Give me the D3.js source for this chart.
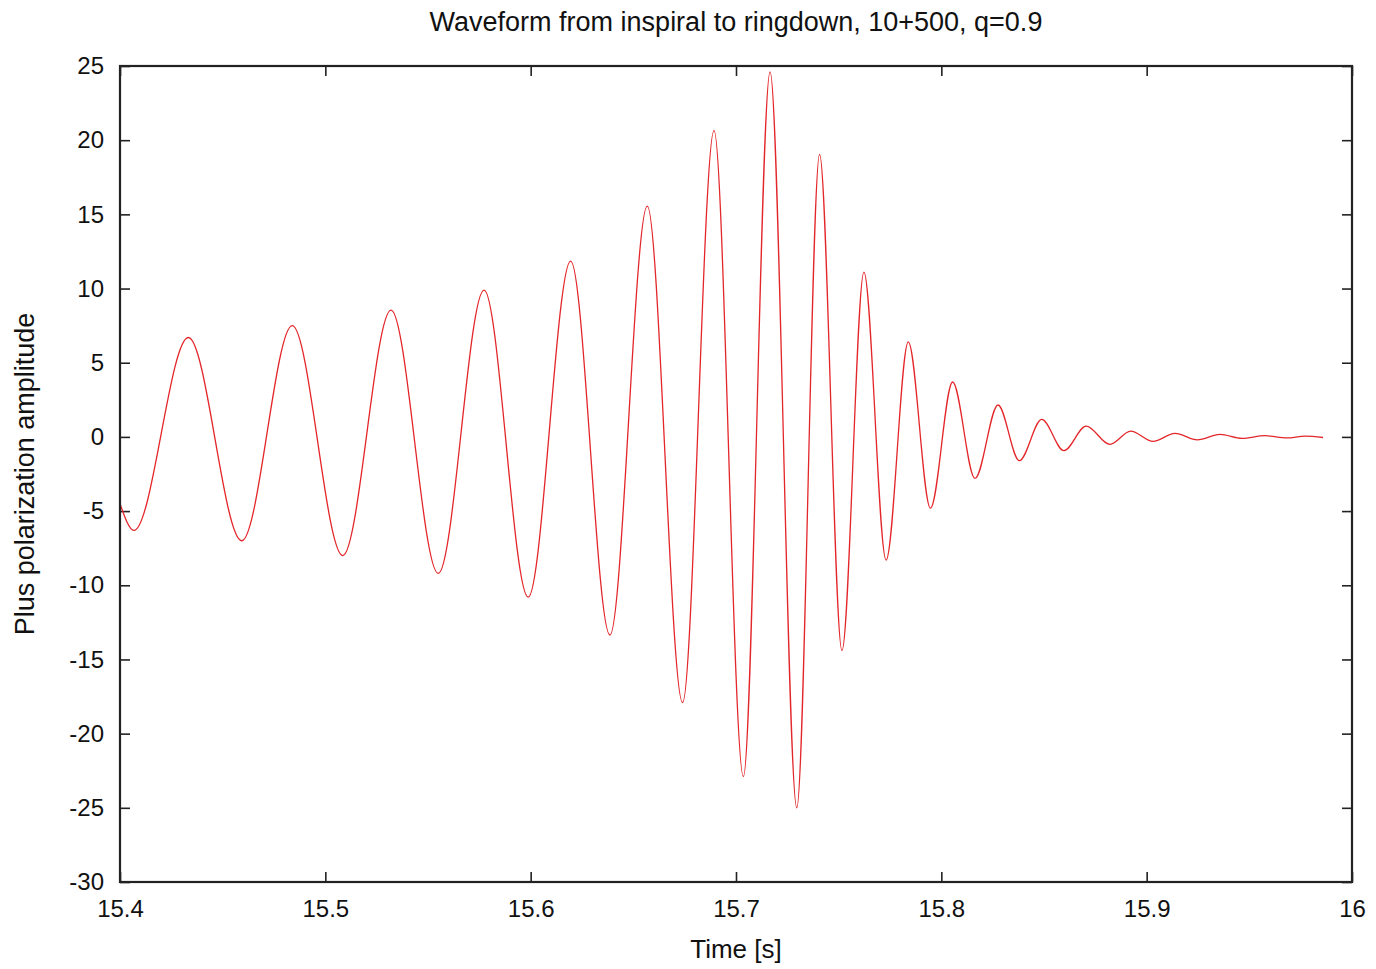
<!DOCTYPE html>
<html>
<head>
<meta charset="utf-8">
<script src="https://cdn.jsdelivr.net/npm/d3@7"></script>
<style>
  html, body { margin: 0; padding: 0; background: #fff; }
  svg { display: block; }
  text { font-family: "Liberation Sans", Arial, Helvetica, sans-serif; fill: #111; }
</style>
</head>
<body>
<svg id="chart" width="1376" height="969"></svg>
<script>
// ---- data (start, successive extrema, end) ----
const times = [
  15.4000, 15.4068, 15.4333, 15.4593, 15.4839, 15.5085, 15.5320, 15.5550,
  15.5773, 15.5988, 15.6195, 15.6386, 15.6568, 15.6740, 15.6893, 15.7036,
  15.7166, 15.7296, 15.7407, 15.7516, 15.7623, 15.7731, 15.7839, 15.7947,
  15.8055, 15.8164, 15.8276, 15.8380, 15.8489, 15.8597, 15.8705, 15.8821,
  15.8922, 15.9031, 15.9138, 15.9247, 15.9357, 15.9464, 15.9576, 15.9683,
  15.9771, 15.9859
];
const amplitudes = [
  -4.5, -6.3, 6.7, -7.0, 7.5, -8.0, 8.55, -9.2,
  9.9, -10.8, 11.85, -13.35, 15.55, -17.9, 20.65, -22.9,
  24.6, -25.0, 19.05, -14.4, 11.1, -8.3, 6.4, -4.8,
  3.7, -2.8, 2.15, -1.6, 1.18, -0.93, 0.73, -0.5,
  0.39, -0.3, 0.24, -0.2, 0.17, -0.1, 0.08, -0.07,
  0.05, -0.04
];
const xTickValues = [15.4, 15.5, 15.6, 15.7, 15.8, 15.9, 16.0];
const xTickLabels = ["15.4", "15.5", "15.6", "15.7", "15.8", "15.9", "16"];
const yTickValues = [-30, -25, -20, -15, -10, -5, 0, 5, 10, 15, 20, 25];
const yTickLabels = ["-30", "-25", "-20", "-15", "-10", "-5", "0", "5", "10", "15", "20", "25"];
const titleText = "Waveform from inspiral to ringdown, 10+500, q=0.9";
const xLabelText = "Time [s]";
const yLabelText = "Plus polarization amplitude";

// ---- layout ----
const L = 120, R = 1352, T = 66, B = 882;
const svg = d3.select("#chart");

const x = d3.scaleLinear().domain([15.4, 16.0]).range([L, R]);
const y = d3.scaleLinear().domain([-30, 25]).range([B, T]);

const data = times.map((t, i) => ({ t, v: amplitudes[i] }));

// clip
svg.append("defs").append("clipPath").attr("id", "clip")
  .append("rect").attr("x", L).attr("y", T).attr("width", R - L).attr("height", B - T);

const tickLen = 10;
const tickFont = 24;

// axes via d3.axis (ticks inward)
const xBottom = d3.axisBottom(x).tickValues(xTickValues)
  .tickFormat((d, i) => xTickLabels[i]).tickSizeInner(-tickLen).tickSizeOuter(0).tickPadding(18);
const xTop = d3.axisTop(x).tickValues(xTickValues).tickFormat("").tickSizeInner(-tickLen).tickSizeOuter(0);
const yLeft = d3.axisLeft(y).tickValues(yTickValues)
  .tickFormat((d, i) => yTickLabels[i]).tickSizeInner(-tickLen).tickSizeOuter(0).tickPadding(16);
const yRight = d3.axisRight(y).tickValues(yTickValues).tickFormat("").tickSizeInner(-tickLen).tickSizeOuter(0);

function styleAxis(g) {
  g.select(".domain").remove();
  g.selectAll(".tick line").attr("stroke", "#222").attr("stroke-width", 1.6);
  g.selectAll(".tick text").attr("font-size", tickFont)
    .attr("font-family", "'Liberation Sans', Arial, sans-serif").attr("fill", "#111");
}

svg.append("g").attr("transform", `translate(0,${B})`).call(xBottom).call(styleAxis);
svg.append("g").attr("transform", `translate(0,${T})`).call(xTop).call(styleAxis);
svg.append("g").attr("transform", `translate(${L},0)`).call(yLeft).call(styleAxis);
svg.append("g").attr("transform", `translate(${R},0)`).call(yRight).call(styleAxis);

// waveform line
const line = d3.line()
  .x(d => x(d.t))
  .y(d => y(d.v))
  .curve(d3.curveMonotoneX);

svg.append("path")
  .datum(data)
  .attr("clip-path", "url(#clip)")
  .attr("fill", "none")
  .attr("stroke", "#e3262a")
  .attr("stroke-width", 1.3)
  .attr("d", line);

// frame
svg.append("rect")
  .attr("x", L).attr("y", T).attr("width", R - L).attr("height", B - T)
  .attr("fill", "none").attr("stroke", "#222").attr("stroke-width", 2.2);

// title
svg.append("text")
  .attr("x", (L + R) / 2).attr("y", 31)
  .attr("text-anchor", "middle").attr("font-size", 27)
  .text(titleText);

// x label
svg.append("text")
  .attr("x", (L + R) / 2).attr("y", 958)
  .attr("text-anchor", "middle").attr("font-size", 26)
  .text(xLabelText);

// y label
svg.append("text")
  .attr("transform", `translate(34,${(T + B) / 2}) rotate(-90)`)
  .attr("text-anchor", "middle").attr("font-size", 27)
  .text(yLabelText);
</script>
</body>
</html>
